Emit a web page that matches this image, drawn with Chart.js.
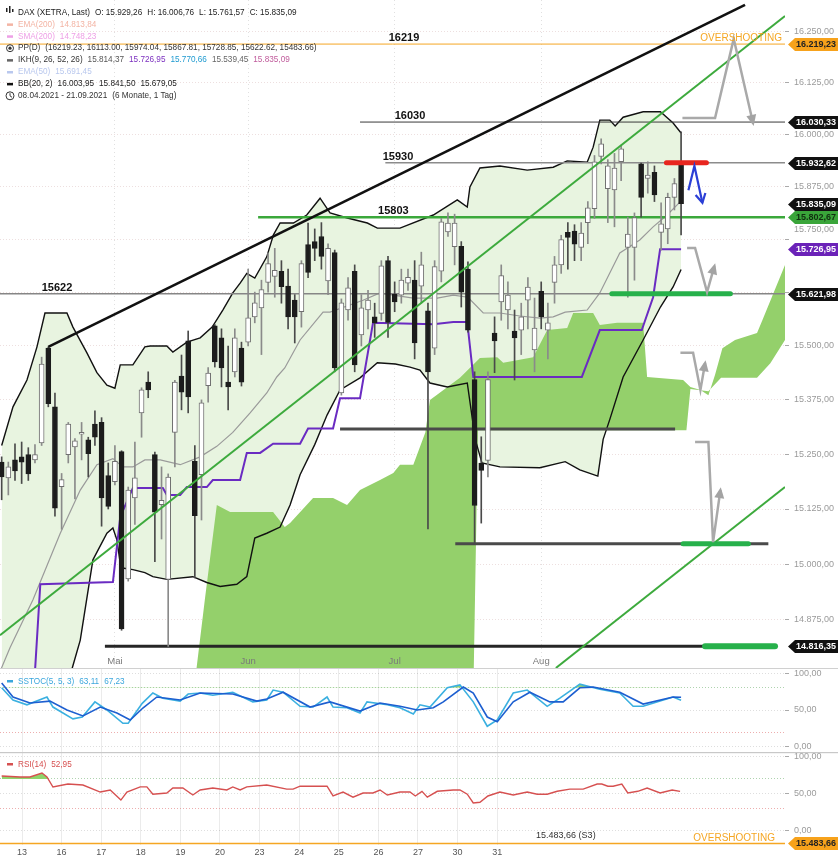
<!DOCTYPE html>
<html>
<head>
<meta charset="utf-8">
<script src="https://cdn.jsdelivr.net/npm/chart.js@4.4.1/dist/chart.umd.min.js"></script>
<style>
  body { margin: 0; background: #fff; width: 838px; height: 860px; overflow: hidden; }
  canvas { display: block; }
</style>
</head>
<body>
<canvas id="main" width="838" height="668" style="width:838px;height:668px"></canvas>
<canvas id="stoch" width="838" height="84" style="width:838px;height:84px"></canvas>
<canvas id="rsi" width="838" height="108" style="width:838px;height:108px"></canvas>
<script>
// ---------- data (x = trading day index, 0 = 08.04.2021) ----------
const monthLabels = ['Mai', 'Jun', 'Jul', 'Aug'];
const monthIdx = [17, 37, 59, 81];

const open = [15232,15196,15237,15244,15249,15237,15276,15495,15359,15176,15249,15267,15296,15283,15319,15323,15201,
  15187,15256,14967,15150,15345,15416,15249,15135,14966,15300,15430,15512,15234,15203,15408,15547,15519,15416,15440,15495,
  15509,15568,15589,15649,15663,15675,15640,15607,15580,15738,15745,15757,15652,15719,15391,15584,15675,15526,15584,15568,15576,15700,
  15621,15619,15647,15654,15640,15582,15495,15675,15768,15733,15734,15680,15422,15230,15236,15530,15603,15584,15535,15537,15607,15491,
  15628,15537,15649,15690,15767,15770,15731,15790,15823,15948,15871,15868,15935,15731,15731,15930,15895,15910,15767,15775,15850,15929];
const high = [15244,15232,15274,15278,15265,15272,15474,15498,15391,15206,15323,15286,15323,15289,15350,15334,15230,
  15270,15258,15175,15278,15403,15440,15255,15221,15205,15420,15479,15535,15270,15375,15450,15550,15540,15500,15540,15509,
  15680,15626,15654,15718,15729,15700,15680,15620,15700,15789,15775,15790,15740,15725,15610,15660,15690,15620,15630,15600,15700,15710,
  15650,15680,15680,15700,15720,15600,15700,15800,15813,15810,15745,15697,15440,15290,15440,15568,15690,15650,15584,15600,15660,15612,
  15650,15600,15710,15760,15790,15785,15790,15840,15950,15990,15940,15955,15975,15803,15813,15932,15935,15925,15837,15860,15895,16007];
const low = [15146,15157,15190,15183,15190,15230,15270,15359,15109,15079,15230,15148,15237,15198,15270,15086,15125,
  15180,14852,14962,15090,15289,15380,15006,15057,14816,15221,15352,15345,14969,15100,15370,15451,15405,15352,15428,15407,
  15500,15554,15480,15626,15614,15600,15540,15507,15544,15660,15700,15680,15620,15440,15386,15560,15440,15500,15540,15520,15560,15520,
  15580,15600,15630,15470,15600,15080,15480,15650,15757,15690,15591,15532,15046,15093,15198,15438,15560,15540,15421,15480,15540,15440,
  15540,15470,15600,15670,15680,15700,15700,15740,15800,15930,15790,15780,15890,15614,15654,15803,15860,15840,15725,15740,15820,15761];
const close = [15198,15221,15212,15232,15205,15249,15458,15366,15127,15192,15319,15281,15300,15251,15289,15150,15131,
  15234,14855,15168,15196,15398,15398,15118,15145,15198,15416,15393,15382,15110,15368,15437,15463,15449,15405,15519,15416,
  15566,15601,15632,15693,15677,15639,15568,15568,15693,15672,15729,15710,15729,15449,15601,15636,15456,15589,15607,15554,15688,15555,
  15603,15654,15661,15507,15690,15440,15686,15792,15789,15789,15626,15537,15133,15213,15422,15512,15665,15619,15519,15568,15638,15542,
  15568,15554,15690,15750,15755,15739,15765,15825,15935,15978,15925,15920,15966,15763,15802,15850,15903,15856,15787,15850,15883,15835];

// Bollinger (20,2)
const bbUpper = [[0,15270],[1.7,15359],[3.8,15421],[5.3,15498],[6.5,15577],[7.7,15577],[9.8,15577],[10.7,15544],[12.8,15484],
  [14.3,15438],[15.8,15409],[17,15402],[17.8,15456],[19.7,15456],[21.5,15498],[22.3,15500],[24.8,15500],[25.7,15486],[27.8,15509],
  [29.8,15519],[31.6,15544],[33.2,15584],[34.7,15624],[35.8,15647],[36.8,15670],[38,15659],[39.8,15709],[40.8,15761],[41.8,15789],
  [43.8,15789],[45.8,15808],[47.8,15848],[49.3,15813],[51.9,15801],[54.9,15789],[56.4,15777],[59.8,15777],[64.8,15808],[68.4,15844],
  [69.9,15827],[70.3,15875],[71.8,15920],[74.8,15925],[78.9,15915],[82.8,15922],[84.9,15937],[87.9,15934],[88.8,15970],[89.8,16035],
  [91.3,16035],[92.1,16021],[93.3,16042],[96.3,16055],[98.9,16055],[100.8,16028],[102,16004]];
const bbMiddle = [[-0.25,14760],[1.25,14813],[4.7,14920],[8.8,15070],[11.8,15168],[14.3,15226],[16.7,15240],[18.2,15221],[19.7,15221],
  [21.5,15237],[23.8,15237],[26.8,15226],[29.8,15244],[32.3,15268],[34.7,15300],[37.3,15345],[39.8,15391],[41.3,15428],[42.5,15449],
  [44.8,15514],[48.25,15579],[49.3,15579],[54.25,15607],[56.8,15624],[58.8,15619],[61.8,15612],[65.4,15612],[67.8,15619],[70,15614],
  [72.3,15577],[74.8,15577],[77.8,15570],[80.8,15565],[82.8,15568],[84.6,15579],[87.9,15584],[89.8,15624],[92.8,15718],[95.8,15749],
  [97.8,15780],[99.9,15808],[102,15841.5]];
const bbLower = [[0,14270],[5,14360],[9.8,14620],[10.6,14768],[11.8,14830],[13.7,15010],[15.8,15070],[16.7,15082],[17.3,15055],
  [17.9,14992],[19.7,14988],[21.5,14981],[22.7,14972],[24.8,14966],[28.7,14972],[30.8,14959],[32.8,14950],[35.3,14955],[36.8,14972],
  [38,15059],[39.8,15070],[41.8,15084],[43.3,15134],[44.8,15203],[47,15272],[48.85,15340],[50.8,15398],[53.8,15426],[56.4,15461],
  [59.1,15458],[61.3,15451],[62.8,15444],[64.3,15414],[66.9,15405],[69.9,15414],[71.1,15284],[72.1,15230],[74.8,15221],[80.8,15219],
  [84.6,15233],[86.8,15214],[89.5,15200],[90.3,15284],[91.3,15330],[93.3,15428],[96.3,15514],[98.9,15591],[100.8,15638],[102,15679]];

// Ichimoku: kijun and cloud edges
const kijun = [[5,14760],[5.8,14955],[16.7,14960],[17.8,15107],[19.7,15173],[24.2,15173],[24.8,15157],[26.8,15157],[27.8,15175],
  [30.8,15175],[31.7,15191],[35.8,15191],[36.8,15253],[38.8,15253],[40.75,15274],[44.8,15274],[46,15309],[49.75,15309],[50.8,15379],
  [53.8,15379],[55.75,15554],[64.8,15551],[67.8,15556],[69.9,15556],[70.8,15428],[87.1,15428],[89.8,15537],[96.1,15537],[97.8,15614],
  [98.85,15726.95],[102,15726.95]];
const cloudTop = [[28.7,14700],[30.5,14920],[32.3,15134],[34.3,15118],[40.75,15118],[42.5,15084],[43.3,15093],[46.75,15150],
  [49.75,15150],[51.85,15134],[53.8,15168],[56.8,15191],[58.8,15207],[59.8,15226],[61.8,15226],[63.6,15300],[64.3,15375],[68.8,15426],
  [71.8,15472],[74.4,15474],[75.3,15461],[79.8,15474],[81.9,15537],[84.9,15542],[85.8,15577],[88.8,15577],[89.8,15549],[92.4,15554],
  [96.3,15554],[96.9,15428],[102.3,15421],[103.4,15405],[104.9,15398],[106.1,15386],[107.1,15433],[108.2,15495],[110.1,15514],
  [113.4,15530],[114.2,15560],[117.6,15690]];
const cloudBottom = [[28.7,14700],[70.8,14700],[71.5,15305],[102.8,15305],[103.4,15400],[106.1,15395],[108,15426],[113.4,15426],
  [115.4,15460],[117.6,15514]];

// drawn trend lines and levels
const trendBlack = [[7,15498],[111.6,16315]];
const channelUpper = [[-0.25,14841],[117.6,16288]];
const channelLower = [[83.2,14768],[117.6,15175]];
const levelPrice = [16219.23, 16030.33, 15932.62, 15802.67, 15621.98, 15308, 15046, 14816.35];
const levelFrom = [-0.25, 53.8, 57.6, 38.5, -0.25, 50.8, 68.1, 15.5];
const levelTo = [117.6, 117.6, 117.6, 117.6, 117.6, 101.1, 115.1, 116.1];
const levelText = ['16219', '16030', '15930', '15803', '15622'];
const levelTextIdx = [60.4, 61.3, 59.5, 58.8, 8.3];
const markPrice = [15621.98, 15046, 14816.35, 15932.62];
const markFrom = [91.6, 102.3, 105.6, 99.8];
const markTo = [109.4, 112.1, 116.1, 105.8];
const projPaths = [
  [[102.2,16040],[107.1,16040],[109.9,16232],[112.8,16028]],
  [[102.9,15730],[104.1,15730],[105.9,15626],[107,15687]],
  [[101.9,15484],[103.8,15484],[104.9,15398],[105.6,15460]],
  [[104.1,15278],[106.1,15278],[106.8,15050],[107.9,15168]]
];
const bluePath = [[103.1,15867],[104,15925],[105.2,15837]];
const tagValue = [16219.23, 16030.33, 15932.62, 15835.09, 15802.67, 15726.95, 15621.98, 14816.35];
const yTicks = [14875, 15000, 15125, 15250, 15375, 15500, 15625, 15750, 15875, 16000, 16125, 16250];
const s3Value = 15483.66;

// oscillators
const stochK = [[0,80],[1.7,63.5],[3.8,57],[6.8,67.6],[7.7,54],[10.7,38],[12.1,40.5],[14,61],[15.8,50],[18.2,32],[19,32],[21.1,59],
  [22.7,73],[24.2,66],[26.8,62],[28,71.6],[29.8,73],[31.7,70],[34.7,74],[37.7,61],[39.8,63.5],[40.75,77],[42.25,74],[44.8,55],
  [46.75,54],[48.85,67.6],[49.75,54],[51.85,53],[53.8,46],[54.85,61],[57.9,57],[59.8,53],[61.8,44.6],[62.8,57],[64.3,54],[66.9,80],
  [68.8,84],[70.8,61],[72.9,28],[74.4,36.5],[76.8,73],[78.9,77],[81.9,55],[83.8,66],[86.8,85],[89.8,78],[92.8,73],[94.8,55],
  [96.3,55],[100.8,67.6],[102,63.1]];
const stochD = [[0,86.5],[1.7,67.6],[4.25,59.5],[7.25,62],[9.8,50],[12.2,42],[14.8,54],[17.3,46],[19.3,36.5],[21.2,52.7],[23.3,67.6],
  [26.8,63.5],[29.8,73],[34.7,71.6],[38.3,62],[39.8,65],[42.25,74],[46.3,54],[49.3,61],[53.8,48.6],[56.8,59.5],[59.8,55],[62.4,50],
  [64.8,53],[66.3,61],[69.3,81],[70.8,73],[72.9,40.5],[74.4,34],[76.8,61],[79.3,74],[82.3,61],[84.3,61],[86.8,80],[88.8,81],
  [92.8,74],[96.3,58],[100.8,67.6],[102,67.2]];
const rsi = [[0,74],[2.75,72.6],[4.25,72.6],[6.05,78],[6.8,72.6],[7.7,58.9],[9.95,63],[12.2,61.6],[14.8,52],[16.3,54.8],[17.9,41],
  [18.8,52],[20.8,59],[21.8,59],[22.7,49],[24.8,50.7],[25.7,57.5],[27.2,57.5],[28.7,48],[29.8,54.8],[31.7,57.5],[33.8,54.8],[34.7,59],
  [35.8,54.8],[36.8,59],[39.8,61.6],[42.8,56],[43.75,56],[44.8,60],[48.85,60],[49.75,46.6],[51.25,52],[52.75,45],[54.25,50.7],
  [55.75,50.7],[56.8,54.8],[57.9,48],[59.8,52],[61.3,52],[62.1,46.6],[63.1,53],[63.9,45],[65.4,53],[67.8,54.8],[68.8,54.8],[69.9,49],
  [70.8,37],[71.8,38],[73,46.6],[74.8,52],[76.8,48],[78.9,52],[80.4,49],[81.9,49],[83.4,53],[85.3,56],[87.3,56],[89.4,63],[90.1,63],
  [91,60],[91.8,60],[93.1,63],[94,50.7],[95.5,53],[96.9,57.5],[98.85,50.7],[100.65,54.8],[101.85,52.95]];
const dateLabels = ['13', '16', '17', '18', '19', '20', '23', '24', '25', '26', '27', '30', '31'];

// ---------- look ----------
const FONT = '"Liberation Sans", Arial, Helvetica, sans-serif';
Chart.defaults.font.family = FONT;
Chart.defaults.animation = false;
const X_MIN = -0.25, X_MAX = 117.6;

const levelColor = ['#f5a623', '#3a3a3a', '#8c8c8c', '#3ba83b', '#868686', '#4a4a4a', '#4a4a4a', '#262626'];
const levelWidth = [1, 1, 1.5, 2.5, 1.5, 3, 3, 3];
const tagBg = ['#f7a21b', '#111', '#111', '#111', '#3aa53a', '#6b22b8', '#111', '#111'];
const tagFg = ['#222', '#fff', '#fff', '#fff', '#10300f', '#fff', '#fff', '#fff'];
// axis labels that the chart nudges away from a tag: value -> pixel shift
const nudged = {15750: -10};

function de(v, d = 2) {
  const [i, f] = Math.abs(v).toFixed(d).split('.');
  return (v < 0 ? '-' : '') + i.replace(/\B(?=(\d{3})+(?!\d))/g, '.') + ',' + f;
}
const pts = a => a.map(([x, y]) => ({x, y}));
const seg = (x0, x1, v) => [{x: x0, y: v}, {x: x1, y: v}];
function line(data, color, width, order, extra) {
  return Object.assign({type: 'line', data, borderColor: color, borderWidth: width, pointRadius: 0,
    pointHoverRadius: 0, fill: false, tension: 0, order}, extra || {});
}
const none = 'rgba(0,0,0,0)';
const idx = close.map((_, i) => i);
const up = close.map((c, i) => c >= open[i]);

function drawTag(ctx, xl, yp, text, bg, fg) {
  ctx.beginPath();
  ctx.moveTo(xl, yp);
  ctx.lineTo(xl + 7, yp - 6.5);
  ctx.lineTo(838, yp - 6.5);
  ctx.lineTo(838, yp + 6.5);
  ctx.lineTo(xl + 7, yp + 6.5);
  ctx.closePath();
  ctx.fillStyle = bg;
  ctx.fill();
  ctx.fillStyle = fg;
  ctx.font = 'bold 9px ' + FONT;
  ctx.textAlign = 'left';
  ctx.textBaseline = 'middle';
  ctx.fillText(text, xl + 8, yp + 0.5);
}

function arrowHead(ctx, p1, p2, kind) {
  const ang = Math.atan2(p2.y - p1.y, p2.x - p1.x);
  ctx.save();
  ctx.translate(p2.x, p2.y);
  ctx.rotate(ang);
  if (kind === 'gray') {
    ctx.fillStyle = '#a3a3a3';
    ctx.beginPath();
    ctx.moveTo(3, 0);
    ctx.lineTo(-8, -5);
    ctx.lineTo(-8, 5);
    ctx.closePath();
    ctx.fill();
  } else {
    ctx.strokeStyle = '#2b3fd6';
    ctx.lineWidth = 2.2;
    ctx.beginPath();
    ctx.moveTo(-9, -5);
    ctx.lineTo(0, 0);
    ctx.lineTo(-9, 5);
    ctx.stroke();
  }
  ctx.restore();
}

function legendRows(ctx, rows, x0, y0, step) {
  ctx.font = '8.2px ' + FONT;
  ctx.textAlign = 'left';
  ctx.textBaseline = 'middle';
  rows.forEach((r, i) => {
    let xx = x0;
    const yy = y0 + i * step;
    r.forEach(([t, c]) => {
      ctx.fillStyle = c;
      ctx.fillText(t, xx, yy);
      xx += ctx.measureText(t).width + 5;
    });
  });
}

const mainOverlay = {
  id: 'mainOverlay',
  afterDatasetsDraw(chart) {
    const {ctx, scales: {x, y}} = chart;
    ctx.save();
    ctx.font = 'bold 11px ' + FONT;
    ctx.fillStyle = '#111';
    ctx.textAlign = 'center';
    ctx.textBaseline = 'alphabetic';
    levelText.forEach((t, i) => {
      ctx.fillText(t, x.getPixelForValue(levelTextIdx[i]), y.getPixelForValue(levelPrice[i]) - 3);
    });
    chart.data.datasets.forEach((ds, di) => {
      if (!ds.arrow) return;
      const el = chart.getDatasetMeta(di).data;
      arrowHead(ctx, el[el.length - 2], el[el.length - 1], ds.arrow);
    });
    ctx.restore();
  },
  afterDraw(chart) {
    const {ctx, chartArea: a, scales: {x, y}} = chart;
    ctx.save();
    // axis labels moved off a tag
    ctx.font = '9px ' + FONT;
    ctx.fillStyle = '#9b9b9b';
    ctx.textAlign = 'left';
    ctx.textBaseline = 'middle';
    Object.keys(nudged).forEach(v => ctx.fillText(de(+v), a.right + 9, y.getPixelForValue(+v) + nudged[v]));
    // month labels inside the plot
    ctx.font = '9.5px ' + FONT;
    ctx.fillStyle = '#7a7a7a';
    ctx.textAlign = 'center';
    ctx.textBaseline = 'alphabetic';
    monthLabels.forEach((m, i) => ctx.fillText(m, x.getPixelForValue(monthIdx[i]), a.bottom - 4));
    // overshooting
    ctx.font = '10px ' + FONT;
    ctx.fillStyle = '#f5a623';
    ctx.textAlign = 'right';
    ctx.fillText('OVERSHOOTING', a.right - 3, y.getPixelForValue(levelPrice[0]) - 3);
    // value tags on the axis
    tagValue.forEach((v, i) => drawTag(ctx, a.right + 3, Math.round(y.getPixelForValue(v)) + 0.5, de(v), tagBg[i], tagFg[i]));
    // legend
    legendRows(ctx, [
      [['DAX (XETRA, Last)', '#222'], ['O: 15.929,26', '#222'], ['H: 16.006,76', '#222'], ['L: 15.761,57', '#222'], ['C: 15.835,09', '#222']],
      [['EMA(200)', '#f3b4a4'], ['14.813,84', '#f3b4a4']],
      [['SMA(200)', '#eea0e6'], ['14.748,23', '#eea0e6']],
      [['PP(D)', '#333'], ['(16219.23, 16113.00, 15974.04, 15867.81, 15728.85, 15622.62, 15483.66)', '#333']],
      [['IKH(9, 26, 52, 26)', '#333'], ['15.814,37', '#555'], ['15.726,95', '#7b2fbf'], ['15.770,66', '#1e9ad0'], ['15.539,45', '#666'], ['15.835,09', '#c05c9c']],
      [['EMA(50)', '#b9c8ee'], ['15.691,45', '#b9c8ee']],
      [['BB(20, 2)', '#222'], ['16.003,95', '#222'], ['15.841,50', '#222'], ['15.679,05', '#222']],
      [['08.04.2021 - 21.09.2021', '#333'], ['(6 Monate, 1 Tag)', '#333']]
    ], 18, 12.5, 11.9);
    // legend icons
    ctx.fillStyle = '#222';
    [[6, 8, 4], [9, 6, 7], [12, 9, 3]].forEach(([xx, yy, h]) => ctx.fillRect(xx, yy, 1.5, h));
    const dash = [[24.4, '#f3b4a4'], [36.3, '#eea0e6'], [60.1, '#666'], [72, '#b9c8ee'], [83.9, '#111']];
    dash.forEach(([yy, c]) => { ctx.fillStyle = c; ctx.fillRect(7, yy - 1, 6, 2.5); });
    ctx.strokeStyle = '#333';
    ctx.lineWidth = 1;
    ctx.beginPath(); ctx.arc(10, 48.2, 3.5, 0, Math.PI * 2); ctx.stroke();
    ctx.fillStyle = '#333';
    ctx.beginPath(); ctx.arc(10, 48.2, 1.6, 0, Math.PI * 2); ctx.fill();
    ctx.beginPath(); ctx.arc(10, 95.8, 4, 0, Math.PI * 2); ctx.stroke();
    ctx.beginPath(); ctx.moveTo(10, 93.2); ctx.lineTo(10, 95.8); ctx.lineTo(12, 97.3); ctx.stroke();
    ctx.restore();
  }
};

// ---------- main price chart ----------
new Chart(document.getElementById('main'), {
  type: 'line',
  data: {
    datasets: [
      line(pts(bbUpper), none, 0, 40, {fill: '+1', backgroundColor: '#e8f4e0'}),
      line(pts(bbLower), none, 0, 40),
      line(pts(cloudTop), none, 0, 35, {fill: '+1', backgroundColor: '#94d06b'}),
      line(pts(cloudBottom), none, 0, 35),
      line(pts(bbUpper), '#111', 1.4, 20),
      line(pts(bbLower), '#111', 1.4, 20),
      line(pts(bbMiddle), '#9a9a9a', 1.2, 20),
      line(pts(kijun), '#6a2bc2', 2, 18),
      ...levelPrice.map((p, i) => line(seg(levelFrom[i], levelTo[i], p), levelColor[i], levelWidth[i], 14)),
      {type: 'bar', data: idx.map(i => ({x: i, y: [low[i], high[i]]})), backgroundColor: idx.map(i => up[i] ? '#8a8a8a' : '#4a4a4a'),
        barThickness: 1, grouped: false, order: 12},
      {type: 'bar', data: idx.map(i => ({x: i, y: [open[i], close[i]]})), backgroundColor: idx.map(i => up[i] ? '#ffffff' : '#1c1c1c'),
        borderColor: idx.map(i => up[i] ? '#707070' : '#1c1c1c'), borderWidth: 1, borderSkipped: false,
        barThickness: 5, minBarLength: 1, grouped: false, order: 11},
      line(pts(trendBlack), '#111', 2.6, 6),
      line(pts(channelUpper), '#3daa3d', 2, 6),
      line(pts(channelLower), '#3daa3d', 2, 6),
      ...markPrice.map((p, i) => line(seg(markFrom[i], markTo[i], p), i === 3 ? '#e8261f' : '#27b14b', i === 2 ? 6 : 5, 4,
        {borderCapStyle: 'round'})),
      ...projPaths.map(p => line(pts(p), '#a9a9a9', 2.5, 3, {arrow: 'gray'})),
      line(pts(bluePath), '#2b3fd6', 2.2, 2, {arrow: 'blue'})
    ]
  },
  options: {
    responsive: false,
    animation: false,
    layout: {padding: 0},
    plugins: {legend: {display: false}, tooltip: {enabled: false}},
    scales: {
      x: {
        type: 'linear', min: X_MIN, max: X_MAX, bounds: 'data', offset: false,
        afterBuildTicks: s => { s.ticks = monthIdx.map(v => ({value: v})); },
        afterFit: s => { s.height = 0; s.paddingLeft = 0; s.paddingRight = 0; },
        ticks: {display: false},
        grid: {color: 'rgba(0,0,0,0.12)', drawTicks: false, offset: false},
        border: {display: false, dash: [1, 3]}
      },
      y: {
        type: 'logarithmic', position: 'right', min: 14768, max: 16327, bounds: 'data',
        afterBuildTicks: s => { s.ticks = yTicks.map(v => ({value: v})); },
        afterFit: s => { s.width = 53; s.paddingTop = 0; s.paddingBottom = 0; },
        ticks: {autoSkip: false, color: '#9b9b9b', font: {size: 9}, padding: 5, callback: v => nudged[v] ? '' : de(v)},
        grid: {color: 'rgba(215,185,185,0.45)', tickColor: '#aaa', tickLength: 4},
        border: {display: false, dash: [1, 2]}
      }
    }
  },
  plugins: [mainOverlay]
});

// ---------- oscillator panels ----------
function dateAxis(show) {
  return {
    type: 'linear', min: -0.5556, max: 19.268, bounds: 'data', position: 'bottom',
    afterBuildTicks: s => { s.ticks = dateLabels.map((_, i) => ({value: i})); },
    afterFit: s => { s.height = show ? 15 : 0; s.paddingLeft = 0; s.paddingRight = 0; },
    ticks: {display: show, autoSkip: false, maxRotation: 0, color: '#555', font: {size: 9}, padding: 2,
      callback: v => dateLabels[Math.round(v)] || ''},
    grid: {color: '#ebebeb', drawTicks: false},
    border: {display: false}
  };
}
function oscAxis(min, max, ticks, hi, lo) {
  return {
    type: 'linear', position: 'right', min, max, bounds: 'data',
    afterBuildTicks: s => { s.ticks = ticks.map(v => ({value: v})); },
    afterFit: s => { s.width = 53; s.paddingTop = 0; s.paddingBottom = 0; },
    ticks: {autoSkip: false, color: '#9b9b9b', font: {size: 9}, padding: 5,
      callback: v => (v === 0 || v === 50 || v === 100) ? de(v) : ''},
    grid: {
      color: c => c.tick.value === hi ? 'rgba(110,175,110,0.55)' : c.tick.value === lo ? 'rgba(225,120,120,0.6)' : 'rgba(0,0,0,0.13)',
      tickColor: c => (c.tick.value === 0 || c.tick.value === 50 || c.tick.value === 100) ? '#aaa' : 'rgba(0,0,0,0)',
      tickLength: 4
    },
    border: {display: false, dash: [1, 2]}
  };
}
const indexAxis = {type: 'linear', display: false, min: X_MIN, max: X_MAX, bounds: 'data'};

new Chart(document.getElementById('stoch'), {
  type: 'line',
  data: {
    datasets: [
      line(pts(stochK), '#3bb0e0', 1.6, 2, {fill: {target: {value: 80}, above: 'rgba(120,200,80,0.8)', below: none}}),
      line(pts(stochD), '#1d5fd0', 1.6, 1)
    ]
  },
  options: {
    responsive: false, animation: false, layout: {padding: 0},
    plugins: {legend: {display: false}, tooltip: {enabled: false}},
    scales: {x: indexAxis, xd: dateAxis(false), y: oscAxis(-6.8, 106.8, [0, 20, 50, 80, 100], 80, 20)}
  },
  plugins: [{
    id: 'stochOverlay',
    afterDraw(chart) {
      const {ctx} = chart;
      ctx.save();
      ctx.fillStyle = '#d0d0d0';
      ctx.fillRect(0, 0, 838, 1);
      ctx.fillStyle = '#3aa6dc';
      ctx.fillRect(7, 12, 6, 2.5);
      legendRows(ctx, [[['SSTOC(5, 5, 3)', '#3aa6dc'], ['63,11', '#3aa6dc'], ['67,23', '#3aa6dc']]], 18, 13.5, 0);
      ctx.restore();
    }
  }]
});

new Chart(document.getElementById('rsi'), {
  type: 'line',
  data: {
    datasets: [
      line(pts(rsi), '#d65050', 1.4, 1, {fill: {target: {value: 70}, above: '#8fd46b', below: none}})
    ]
  },
  options: {
    responsive: false, animation: false, layout: {padding: 0},
    plugins: {legend: {display: false}, tooltip: {enabled: false}},
    scales: {x: indexAxis, xd: dateAxis(true), y: oscAxis(-20.5, 106.8, [0, 30, 50, 70, 100], 70, 30)}
  },
  plugins: [{
    id: 'rsiOverlay',
    afterDraw(chart) {
      const {ctx, chartArea: a, scales: {x}} = chart;
      ctx.save();
      ctx.fillStyle = '#c8c8c8';
      ctx.fillRect(0, 0, 838, 1.2);
      ctx.fillStyle = '#d65050';
      ctx.fillRect(7, 11, 6, 2.5);
      legendRows(ctx, [[['RSI(14)', '#d65050'], ['52,95', '#d65050']]], 18, 12.5, 0);
      // S3 pivot clamped at the panel bottom
      const yb = a.bottom - 1.5;
      ctx.strokeStyle = '#f5a623';
      ctx.lineWidth = 1.5;
      ctx.beginPath(); ctx.moveTo(0, yb); ctx.lineTo(a.right, yb); ctx.stroke();
      ctx.font = '9px ' + FONT;
      ctx.fillStyle = '#333';
      ctx.textAlign = 'center';
      ctx.textBaseline = 'alphabetic';
      ctx.fillText(de(s3Value) + ' (S3)', x.getPixelForValue(84.7), yb - 6);
      ctx.font = '10px ' + FONT;
      ctx.fillStyle = '#f5a623';
      ctx.textAlign = 'right';
      ctx.fillText('OVERSHOOTING', a.right - 10, yb - 3);
      drawTag(ctx, a.right + 3, yb, de(s3Value), '#f7a21b', '#222');
      ctx.restore();
    }
  }]
});
</script>
</body>
</html>
